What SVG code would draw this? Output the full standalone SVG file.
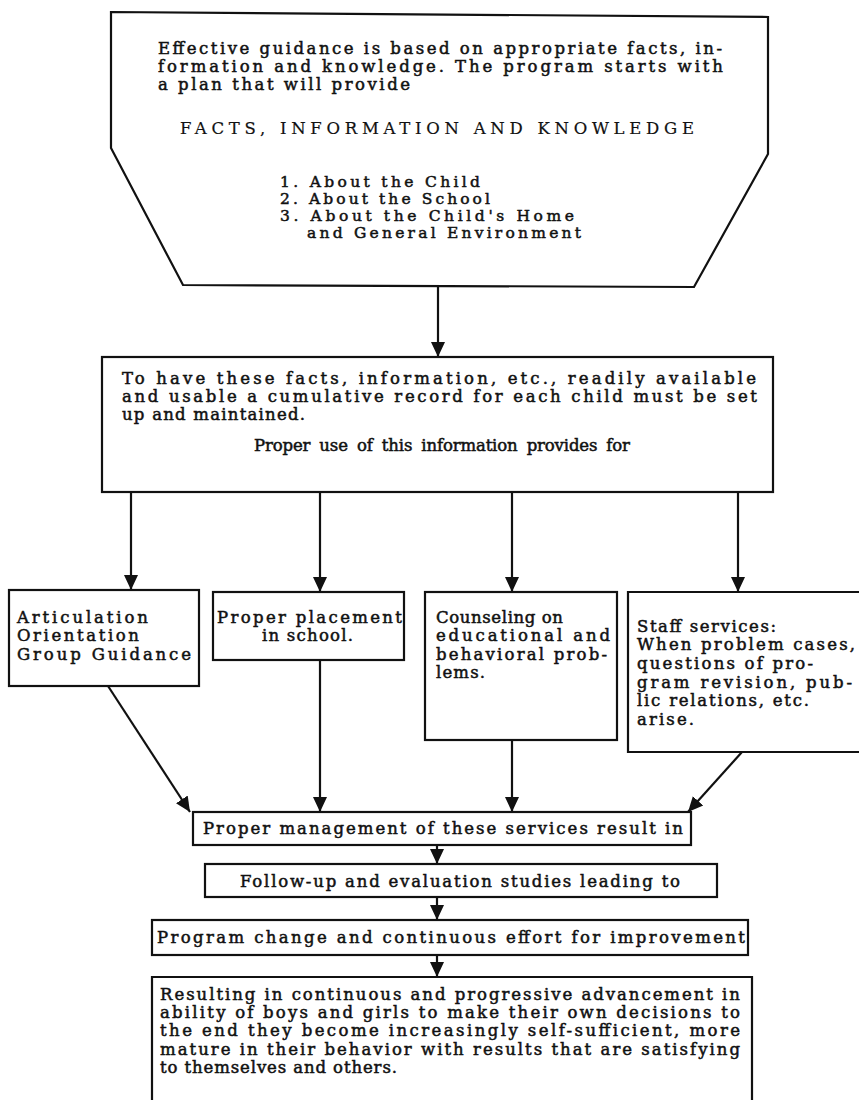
<svg xmlns="http://www.w3.org/2000/svg" width="859" height="1100" viewBox="0 0 859 1100">
<style>
.b{fill:#fff;stroke:#111;stroke-width:2.2;stroke-linejoin:miter}
.t{font-family:"DejaVu Serif","Liberation Serif",serif;font-size:16.5px;fill:#111;stroke:#111;stroke-width:0.5}
.s{font-size:15.5px}
.c{stroke:#111;stroke-width:2.2;fill:none}
</style>
<defs>
<marker id="ah" markerUnits="userSpaceOnUse" markerWidth="16" markerHeight="16" viewBox="0 0 16 16" refX="15" refY="8" orient="auto">
<path d="M0,1 L15,8 L0,15 Z" fill="#111"/>
</marker>
</defs>
<rect width="859" height="1100" fill="#fff"/>
<g id="connectors">
<line class="c" x1="438" y1="286" x2="438" y2="357" marker-end="url(#ah)"/>
<line class="c" x1="131" y1="492" x2="131" y2="590" marker-end="url(#ah)"/>
<line class="c" x1="320" y1="492" x2="320" y2="592" marker-end="url(#ah)"/>
<line class="c" x1="512" y1="492" x2="512" y2="592" marker-end="url(#ah)"/>
<line class="c" x1="738" y1="492" x2="738" y2="592" marker-end="url(#ah)"/>
<line class="c" x1="108" y1="686" x2="190" y2="812" marker-end="url(#ah)"/>
<line class="c" x1="320" y1="660" x2="320" y2="812" marker-end="url(#ah)"/>
<line class="c" x1="512" y1="740" x2="512" y2="812" marker-end="url(#ah)"/>
<line class="c" x1="742" y1="752" x2="688" y2="812" marker-end="url(#ah)"/>
<line class="c" x1="437" y1="845" x2="437" y2="864" marker-end="url(#ah)"/>
<line class="c" x1="437" y1="897" x2="437" y2="920" marker-end="url(#ah)"/>
<line class="c" x1="437" y1="955" x2="437" y2="977" marker-end="url(#ah)"/>
</g>
<g id="n1">
<path class="b" d="M111,12 L768,17 L768,154 L694,287 L183,285 L111,148 Z"/>
<text class="t" x="158" y="54" textLength="564" lengthAdjust="spacing">Effective guidance is based on appropriate facts, in-</text>
<text class="t" x="158" y="72" textLength="565" lengthAdjust="spacing">formation and knowledge. The program starts with</text>
<text class="t" x="158" y="90" textLength="252" lengthAdjust="spacing">a plan that will provide</text>
<text class="t" x="180" y="134" textLength="514" lengthAdjust="spacing" style="stroke-width:0.2">FACTS, INFORMATION AND KNOWLEDGE</text>
<text class="t s" x="280" y="187" textLength="200" lengthAdjust="spacing">1. About the Child</text>
<text class="t s" x="280" y="204" textLength="210" lengthAdjust="spacing">2. About the School</text>
<text class="t s" x="280" y="221" textLength="294" lengthAdjust="spacing">3. About the Child's Home</text>
<text class="t s" x="307" y="238" textLength="274" lengthAdjust="spacing">and General Environment</text>
</g>
<g id="n2">
<rect class="b" x="102" y="357" width="671" height="135"/>
<text class="t" x="122" y="384" textLength="634" lengthAdjust="spacing">To have these facts, information, etc., readily available</text>
<text class="t" x="122" y="402" textLength="635" lengthAdjust="spacing">and usable a cumulative record for each child must be set</text>
<text class="t" x="122" y="420" textLength="183" lengthAdjust="spacing">up and maintained.</text>
<text class="t" x="254" y="451" textLength="376" lengthAdjust="spacing" word-spacing="4">Proper use of this information provides for</text>
</g>
<g id="n3">
<rect class="b" x="9" y="590" width="190" height="96"/>
<text class="t" x="17" y="623" textLength="131" lengthAdjust="spacing">Articulation</text>
<text class="t" x="17" y="641" textLength="122" lengthAdjust="spacing">Orientation</text>
<text class="t" x="17" y="660" textLength="174" lengthAdjust="spacing">Group Guidance</text>
</g>
<g id="n4">
<rect class="b" x="213" y="592" width="191" height="68"/>
<text class="t" x="217" y="623" textLength="185" lengthAdjust="spacing">Proper placement</text>
<text class="t" x="262" y="641" textLength="91" lengthAdjust="spacing">in school.</text>
</g>
<g id="n5">
<rect class="b" x="425" y="592" width="192" height="148"/>
<text class="t" x="436" y="623" textLength="127" lengthAdjust="spacing">Counseling on</text>
<text class="t" x="436" y="641" textLength="174" lengthAdjust="spacing">educational and</text>
<text class="t" x="436" y="660" textLength="171" lengthAdjust="spacing">behavioral prob-</text>
<text class="t" x="436" y="678" textLength="49" lengthAdjust="spacing">lems.</text>
</g>
<g id="n6">
<path class="b" d="M859,592 L628,592 L628,752 L859,752"/>
<text class="t" x="637" y="632" textLength="139" lengthAdjust="spacing">Staff services:</text>
<text class="t" x="637" y="650" textLength="218" lengthAdjust="spacing">When problem cases,</text>
<text class="t" x="637" y="669" textLength="176" lengthAdjust="spacing">questions of pro-</text>
<text class="t" x="637" y="688" textLength="215" lengthAdjust="spacing">gram revision, pub-</text>
<text class="t" x="637" y="706" textLength="172" lengthAdjust="spacing">lic relations, etc.</text>
<text class="t" x="637" y="725" textLength="57" lengthAdjust="spacing">arise.</text>
</g>
<g id="n7">
<rect class="b" x="193" y="812" width="498" height="33"/>
<text class="t" x="203" y="834" textLength="480" lengthAdjust="spacing">Proper management of these services result in</text>
</g>
<g id="n8">
<rect class="b" x="205" y="864" width="512" height="33"/>
<text class="t" x="240" y="887" textLength="440" lengthAdjust="spacing">Follow-up and evaluation studies leading to</text>
</g>
<g id="n9">
<rect class="b" x="152" y="920" width="596" height="35"/>
<text class="t" x="157" y="943" textLength="588" lengthAdjust="spacing">Program change and continuous effort for improvement</text>
</g>
<g id="n10">
<path class="b" d="M152,1100 L152,977 L752,977 L752,1100"/>
<text class="t" x="160" y="1000" textLength="580" lengthAdjust="spacing">Resulting in continuous and progressive advancement in</text>
<text class="t" x="160" y="1018" textLength="580" lengthAdjust="spacing">ability of boys and girls to make their own decisions to</text>
<text class="t" x="160" y="1036" textLength="580" lengthAdjust="spacing">the end they become increasingly self-sufficient, more</text>
<text class="t" x="160" y="1055" textLength="580" lengthAdjust="spacing">mature in their behavior with results that are satisfying</text>
<text class="t" x="160" y="1073" textLength="237" lengthAdjust="spacing">to themselves and others.</text>
</g>
</svg>
